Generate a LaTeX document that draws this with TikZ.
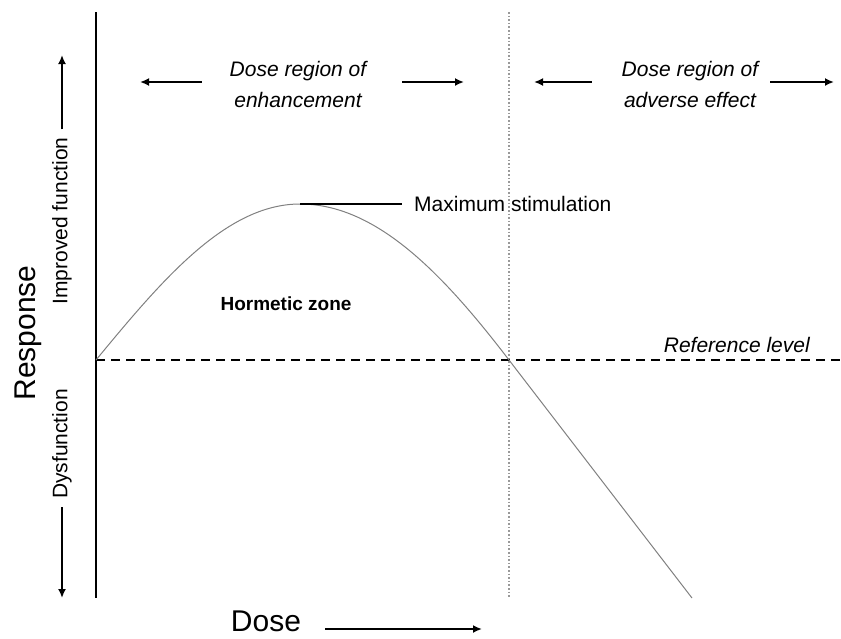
\documentclass[tikz,border=0pt]{standalone}
\usepackage{fontspec}
\setmainfont{Liberation Sans}
\usetikzlibrary{positioning,arrows.meta}

\begin{document}
\begin{tikzpicture}[
    x=1pt, y=-1pt,
    lbl/.style={font=\fontsize{21}{25}\selectfont, inner sep=0pt},
    ilbl/.style={font=\fontsize{21}{31}\selectfont\itshape, align=center, inner sep=0pt},
    biglbl/.style={font=\fontsize{30}{34}\selectfont, inner sep=0pt},
    arr/.style={line width=2pt, -{Latex[length=9pt,width=8pt]}},
    resp/.style={gray, line width=1pt}
    ]
    \useasboundingbox (0,0) rectangle (841,638);

    % axis, reference level and boundary of the hormetic zone
    \coordinate (ytop) at (96,12);
    \coordinate (ybot) at (96,598);
    \coordinate (o) at (96,360);
    \coordinate (rend) at (841,360);
    \coordinate (dtop) at (509,12);
    \coordinate (dbot) at (509,598);
    \coordinate (peak) at (300,204);
    \coordinate (x0) at (509,360);
    \coordinate (cend) at (692,598);
    \draw[gray!80, line width=1.6pt, dash pattern=on 1.6pt off 2pt] (dtop) -- (dbot);
    \draw[line width=2.5pt, dash pattern=on 9pt off 6pt] (o) -- (rend);
    \draw[line width=2.5pt] (ytop) -- (ybot);
    \draw[resp] (o) .. controls (162,280) and (226,204) .. (peak)
      .. controls (375,204) and (441,271) .. (x0) -- (cend);

    % labels in the plot
    \node[lbl, anchor=west] (maxst) at (414,204) {Maximum stimulation};
    \draw[line width=2.5pt] (peak) -- ([xshift=-12pt]maxst.west);
    \node[lbl, font=\fontsize{19}{22}\selectfont\bfseries] (horm) at (286,304) {Hormetic zone};
    \node[ilbl, anchor=base east] (ref) at (810,352) {Reference level};

    % dose regions
    \node[ilbl] (enh) at (298,84) {Dose region of\\enhancement};
    \node[ilbl] (adv) at (690,84) {Dose region of\\adverse effect};
    \coordinate (enhl) at (140,82);
    \coordinate (enhr) at (464,82);
    \coordinate (advl) at (534,82);
    \coordinate (advr) at (834,82);
    \draw[arr] ([xshift=-28pt]enh.west |- enhl) -- (enhl);
    \draw[arr] ([xshift=36pt]enh.east |- enhr) -- (enhr);
    \draw[arr] ([xshift=-30pt]adv.west |- advl) -- (advl);
    \draw[arr] ([xshift=12pt]adv.east |- advr) -- (advr);

    % axis titles
    \node[biglbl, rotate=90] (rsp) at (28,333) {Response};
    \node[lbl, rotate=90] (impr) at (62,221) {Improved function};
    \node[lbl, rotate=90] (dysf) at (62,444) {Dysfunction};
    \coordinate (upt) at (62,55);
    \coordinate (dnt) at (62,598);
    \draw[arr, shorten <=8pt] (impr.east) -- (upt);
    \draw[arr, shorten <=8pt] (dysf.west) -- (dnt);
    \node[biglbl, anchor=base] (dose) at (266,631) {Dose};
    \coordinate (doset) at (482,629);
    \draw[arr] ([xshift=24pt]dose.east |- doset) -- (doset);

\end{tikzpicture}
\end{document}
